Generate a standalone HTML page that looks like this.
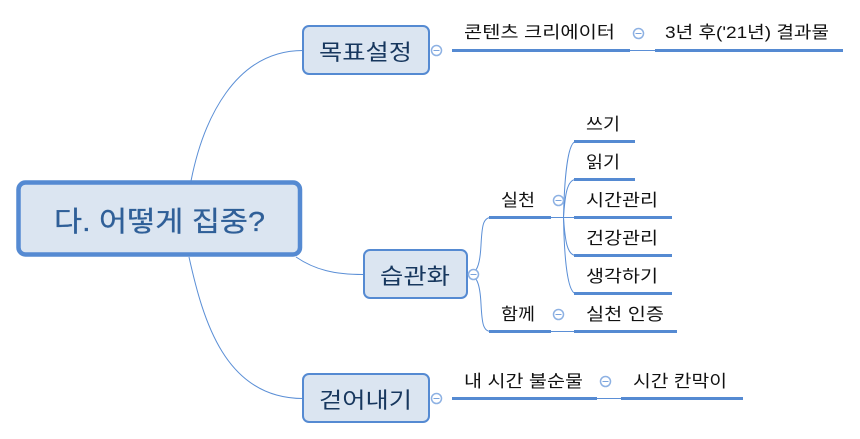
<!DOCTYPE html>
<html lang="ko"><head><meta charset="utf-8"><style>
html,body{margin:0;padding:0;background:#fff}
svg{display:block}
text{font-family:"Liberation Sans","Noto Sans CJK KR","NanumGothic",sans-serif;font-weight:400}
.t{font-size:17px;fill:#111}
.n{font-size:22px;fill:#17375e}
.thin{fill:none;stroke:#5b8fd6;stroke-width:1}
.thick{stroke:#558ad2;stroke-width:3;fill:none}
.box{fill:#dbe5f1;stroke:#558ad2;stroke-width:2}
.c{fill:#fff;stroke:#8db1e3;stroke-width:1.5}
.m{stroke:#7aa3dc;stroke-width:1}
</style></head><body>
<svg width="860" height="439" viewBox="0 0 860 439" xmlns="http://www.w3.org/2000/svg">
<path class="thin" d="M191 181C203 120 235 50.500 303 50.500"/>
<path class="thin" d="M189 257C203 320 225 398.500 303 398.500"/>
<path class="thin" d="M296 257C315 270 335 274.500 363 274.500"/>
<path class="thin" d="M467 274.500C477 274.500 480 265 481 245C482 226 483 217.500 491 217.500"/>
<path class="thin" d="M467 274.500C477 274.500 480 284 481 304C482 323 483 331.500 491 331.500"/>
<path class="thin" d="M563.500 217.500C564 195 566 141.500 576 141.500"/>
<path class="thin" d="M563.500 217.500C565 195 567 179.500 576 179.500"/>
<path class="thin" d="M563.500 217.500C565 240 567 255.500 576 255.500"/>
<path class="thin" d="M563.500 217.500C564 245 566 293.500 576 293.500"/>
<path class="thin" d="M551 217.500H574M551 331.500H574M630 50.500H655M597 398.500H621"/>
<path class="thick" d="M452 50.500H630M655 50.500H843M489 217.500H551M574 217.500H672M574 141.500H635M574 179.500H635M574 255.500H672M574 293.500H672M574 331.500H677M489 331.500H551M452 398.500H597M621 398.500H743"/>
<rect x="18.500" y="182.500" width="281.500" height="72" rx="7" fill="#dbe5f1" stroke="#558ad2" stroke-width="4.500"/>
<rect class="box" x="303" y="26" width="126" height="48" rx="6"/>
<rect class="box" x="364" y="250" width="103" height="48" rx="6"/>
<rect class="box" x="303" y="374" width="126" height="48" rx="6"/>
<g>
<circle class="c" cx="436.500" cy="50.500" r="5"/><path class="m" d="M433.500 50.500H439.500"/>
<circle class="c" cx="638.500" cy="33.500" r="5"/><path class="m" d="M635.500 33.500H641.500"/>
<circle class="c" cx="558.500" cy="200.500" r="5"/><path class="m" d="M555.500 200.500H561.500"/>
<circle class="c" cx="473.500" cy="274.500" r="5"/><path class="m" d="M470.500 274.500H476.500"/>
<circle class="c" cx="558.500" cy="314.500" r="5"/><path class="m" d="M555.500 314.500H561.500"/>
<circle class="c" cx="436.500" cy="398.500" r="5"/><path class="m" d="M433.500 398.500H439.500"/>
<circle class="c" cx="605.500" cy="381.500" r="5"/><path class="m" d="M602.500 381.500H608.500"/>
</g>
<text x="54" y="231" fill="#2f5f98" stroke="#2f5f98" stroke-width="0.300" textLength="211" lengthAdjust="spacingAndGlyphs" style="font-size:28px">다. 어떻게 집중?</text>
<text class="n" x="319" y="60" textLength="93" lengthAdjust="spacingAndGlyphs">목표설정</text>
<text class="n" x="380" y="284" textLength="70" lengthAdjust="spacingAndGlyphs">습관화</text>
<text class="n" x="319" y="408" textLength="93" lengthAdjust="spacingAndGlyphs">걷어내기</text>
<text class="t" x="464" y="38" textLength="151" lengthAdjust="spacingAndGlyphs">콘텐츠 크리에이터</text>
<text class="t" x="665" y="38" textLength="164" lengthAdjust="spacingAndGlyphs">3년 후('21년) 결과물</text>
<text class="t" x="586" y="130" textLength="34" lengthAdjust="spacingAndGlyphs">쓰기</text>
<text class="t" x="586" y="168" textLength="34" lengthAdjust="spacingAndGlyphs">읽기</text>
<text class="t" x="586" y="206" textLength="72" lengthAdjust="spacingAndGlyphs">시간관리</text>
<text class="t" x="586" y="244" textLength="72" lengthAdjust="spacingAndGlyphs">건강관리</text>
<text class="t" x="586" y="282" textLength="72" lengthAdjust="spacingAndGlyphs">생각하기</text>
<text class="t" x="586" y="320" textLength="78" lengthAdjust="spacingAndGlyphs">실천 인증</text>
<text class="t" x="501" y="206" textLength="34" lengthAdjust="spacingAndGlyphs">실천</text>
<text class="t" x="501" y="320" textLength="34" lengthAdjust="spacingAndGlyphs">함께</text>
<text class="t" x="464" y="387" textLength="119" lengthAdjust="spacingAndGlyphs">내 시간 불순물</text>
<text class="t" x="633" y="387" textLength="94" lengthAdjust="spacingAndGlyphs">시간 칸막이</text>
</svg>
</body></html>
